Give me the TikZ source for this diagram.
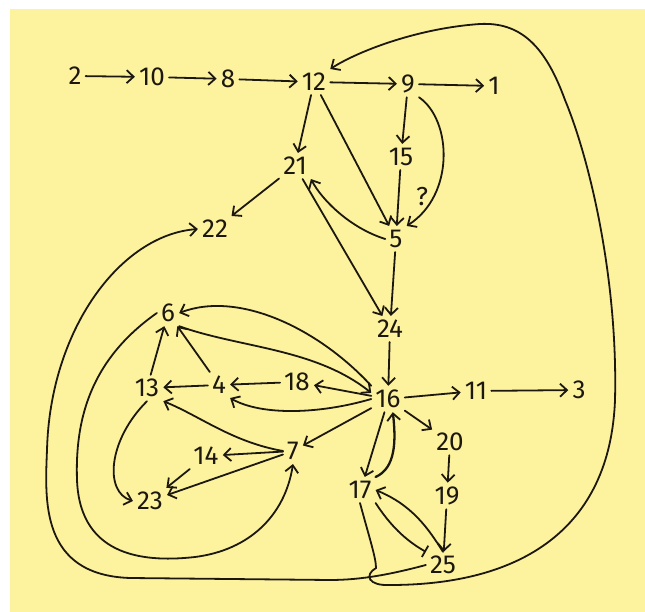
\documentclass[tikz,border=0pt]{standalone}
\usepackage{fontspec}
\setmainfont{Fira Sans}
\usepackage{tikz}
\usetikzlibrary{arrows.meta}
\definecolor{paper}{RGB}{253,243,158}
\definecolor{ink}{RGB}{28,24,16}

\begin{document}
\begin{tikzpicture}[
    x=1pt, y=-1pt,
    num/.style={inner sep=4pt, text=ink, font=\fontsize{26}{26}\selectfont},
    edge/.style={draw=ink, line width=1.8pt, line cap=round, -{Straight Barb[length=7pt,width=13pt,line width=1.8pt]}},
    bar/.style={draw=ink, line width=1.8pt, line cap=round, -{Bar[width=13pt,line width=1.8pt]}},
]
    % Paper
    \useasboundingbox (0,0) rectangle (645,612);
    \fill[white] (0,0) rectangle (645,612);
    \fill[paper] (10,9) rectangle (645,612);
    % Vertices
    \foreach \n/\x/\y in {2/75/76, 10/152/77, 8/228/79, 12/314/82, 9/408/84, 1/494/86,
        21/295/166, 15/401/157, 22/215/229, 5/396/239, 24/390/329,
        6/168/313, 13/147/388, 4/219/385, 18/297/382, 16/388/399, 11/476/391, 3/579/390,
        7/293/451, 14/206/456, 20/450/442, 17/360/490, 19/447/496, 23/150/501, 25/443/565} {
        \node[num] (n\n) at (\x,\y) {\n};
    }
    \node[num] (q) at (422,197) {?};
    % Straight arcs
    \foreach \a/\b in {2/10, 10/8, 8/12, 12/9, 9/1, 12/21, 12/5, 9/15, 15/5, 21/22, 21/24,
        5/24, 24/16, 16/11, 11/3, 16/18, 18/4, 4/13, 4/6, 13/6, 16/7, 7/14, 14/23, 7/23,
        16/20, 20/19, 19/25} {
        \draw[edge] (n\a) -- (n\b);
    }
    % Curved arcs
    \draw[edge] (n9.south east) .. controls (452,120) and (455,195) .. (n5.north east);
    \draw[edge] (n5.west) .. controls (350,228) and (322,200) .. (n21.south east);
    \draw[edge] (n16.north west) .. controls (320,330) and (240,290) .. (n6.east);
    \draw[edge] (n6.south east) .. controls (240,348) and (315,348) .. (n16.160);
    \draw[edge] (n16.west) .. controls (320,414) and (262,416) .. (n4.south east);
    \draw[edge] (n7.west) .. controls (232,442) and (200,416) .. (n13.south east);
    \draw[edge] (n13.south) .. controls (108,440) and (104,492) .. (n23.west);
    \draw[edge] (n16.255) -- (n17.70);
    \draw[edge, line width=2.3pt] (n17.north east) .. controls (396,468) and (396,440) .. (n16.290);
    \draw[bar] (n17.south east) .. controls (390,525) and (405,540) .. (n25.north west);
    \draw[edge] (n25.north) .. controls (428,528) and (412,505) .. (n17.east);
    % Long loops
    \draw[edge] (n6.west) .. controls (90,360) and (75,420) .. (77,480)
        .. controls (80,560) and (150,562) .. (195,557)
        .. controls (250,550) and (285,515) .. (n7.south);
    \draw[edge] (n25.west) .. controls (392,574) and (362,580) .. (330,580) -- (130,578)
        .. controls (40,575) and (45,500) .. (47,450)
        .. controls (50,330) and (120,235) .. (n22.west);
    \draw[edge] (n17.south) .. controls (370,540) and (376,558) .. (376,568)
        .. controls (364,575) and (368,586) .. (390,585)
        .. controls (520,585) and (610,530) .. (615,400)
        .. controls (618,280) and (590,160) .. (565,100)
        .. controls (545,45) and (520,22) .. (480,24)
        .. controls (420,28) and (360,50) .. (n12.north east);
\end{tikzpicture}
\end{document}
